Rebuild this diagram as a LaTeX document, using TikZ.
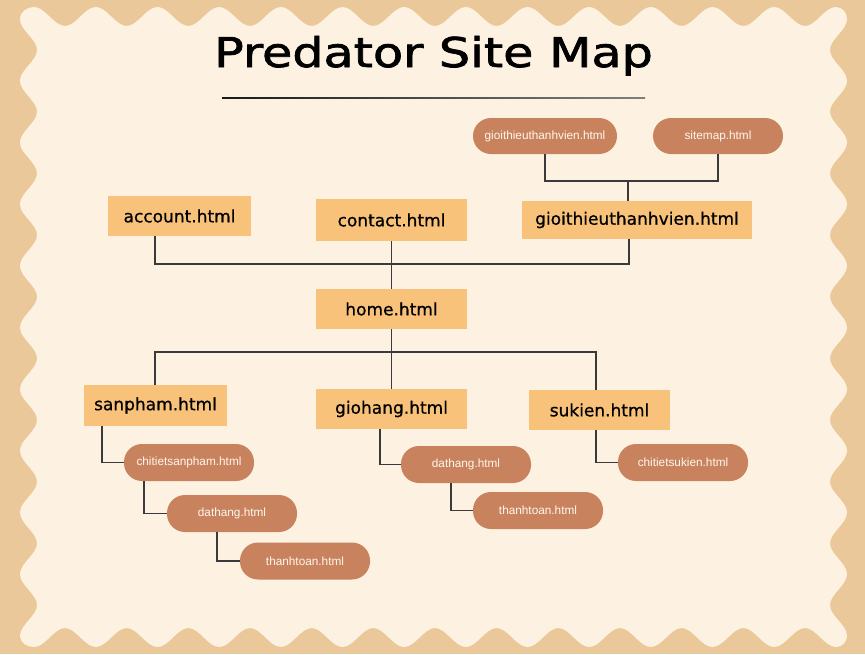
\documentclass[tikz,border=0pt]{standalone}
\usepackage{fontspec}
\usepackage{graphicx}
\setmainfont{DejaVu Sans}
\newfontfamily\titlefont[FakeBold=1.6]{DejaVu Sans}
\newfontfamily\boxfont[FakeBold=0.7]{DejaVu Sans}
\newfontfamily\pillfont{Liberation Sans}
\definecolor{tanbg}{HTML}{EBC899}
\definecolor{cream}{HTML}{FDF1E1}
\definecolor{boxfill}{HTML}{F8C27A}
\definecolor{pillfill}{HTML}{C8835E}
\definecolor{pilltext}{HTML}{FFF7EC}
\definecolor{linecol}{HTML}{3A3A3A}
\begin{document}
\begin{tikzpicture}[x=1pt,y=-1pt,
  bigbox/.style={fill=boxfill, inner sep=0pt, font=\boxfont\fontsize{17}{20}\selectfont, text=black},
  pill/.style={fill=pillfill, inner sep=0pt, rounded corners=18pt, minimum width=130pt, minimum height=37pt, font=\pillfont\fontsize{11.8}{14}\selectfont, text=pilltext},
  link/.style={draw=linecol, line width=1.1pt}]
\useasboundingbox (0,0) rectangle (865,654);
\fill[tanbg] (0,0) rectangle (865,654);
% wavy cream panel
\fill[cream] (34,7)
  \foreach \k in {0,...,12} {
    .. controls ({65+61.667*\k-19.8},7) and ({65+61.667*\k-11},26) .. ({65+61.667*\k},26)
    .. controls ({65+61.667*\k+11},26) and ({65+61.667*\k+19.8},7) .. ({65+61.667*\k+30.83},7)
  }
  to[out=0,in=90] (847,19)
  \foreach \k in {0,...,9} {
    .. controls (847,{50+61.667*\k-19.8}) and (830,{50+61.667*\k-11}) .. (830,{50+61.667*\k})
    .. controls (830,{50+61.667*\k+11}) and (847,{50+61.667*\k+19.8}) .. (847,{50+61.667*\k+30.83})
  }
  to[out=-90,in=0] (836,647)
  \foreach \k in {12,11,...,0} {
    .. controls ({65+61.667*\k+19.8},647) and ({65+61.667*\k+11},628) .. ({65+61.667*\k},628)
    .. controls ({65+61.667*\k-11},628) and ({65+61.667*\k-19.8},647) .. ({65+61.667*\k-30.83},647)
  }
  to[out=180,in=-90] (20,636)
  \foreach \k in {9,8,...,0} {
    .. controls (20,{50+61.667*\k+19.8}) and (37,{50+61.667*\k+11}) .. (37,{50+61.667*\k})
    .. controls (37,{50+61.667*\k-11}) and (20,{50+61.667*\k-19.8}) .. (20,{50+61.667*\k-30.83})
  }
  to[out=90,in=180] (34,7) -- cycle;
% title
\node[anchor=base, inner sep=0pt, font=\titlefont\fontsize{41}{48}\selectfont] (title) at (433.5,67) {\scalebox{1.2}[1]{Predator Site Map}};
\shade[left color=black!90, right color=black!50] (222,97.4) rectangle (645,98.8);
% big boxes
\node[bigbox, minimum width=143pt, minimum height=40pt] (acc) at (179.5,216) {account.html};
\node[bigbox, minimum width=151pt, minimum height=42pt] (con) at (391.5,220) {contact.html};
\node[bigbox, minimum width=230pt, minimum height=38pt] (gio) at (637,220) {gioithieuthanhvien.html};
\node[bigbox, minimum width=151pt, minimum height=40pt] (home) at (391.5,309) {home.html};
\node[bigbox, minimum width=143pt, minimum height=41pt] (sp) at (155.5,405.5) {sanpham.html};
\node[bigbox, minimum width=151pt, minimum height=40pt] (gh) at (391.5,409) {giohang.html};
\node[bigbox, minimum width=141pt, minimum height=40pt] (sk) at (599.5,410) {sukien.html};
% pills
\node[pill, minimum width=144pt, minimum height=36pt] (pg) at (545,136) {gioithieuthanhvien.html};
\node[pill, minimum height=36pt] (ps) at (718,136) {sitemap.html};
\node[pill] (cts) at (189,462.5) {chitietsanpham.html};
\node[pill] (dh1) at (232,513.5) {dathang.html};
\node[pill] (tt1) at (305,561) {thanhtoan.html};
\node[pill] (dh2) at (466,464.5) {dathang.html};
\node[pill] (tt2) at (538,510.5) {thanhtoan.html};
\node[pill] (ctk) at (683,462.5) {chitietsukien.html};
% junction coordinates
\coordinate (jT) at (628,181);
\coordinate (b1L) at (155,264);
\coordinate (b1R) at (629,264);
\coordinate (b2L) at (155,352);
\coordinate (b2R) at (596,352);
\coordinate (x1) at (102,0);
\coordinate (x2) at (144,0);
\coordinate (x3) at (217,0);
\coordinate (x4) at (380,0);
\coordinate (x5) at (451,0);
\coordinate (x6) at (596,0);
% connectors
\draw[link] (pg.south) |- (jT) -| (ps.south);
\draw[link] (jT) -- (jT |- gio.north);
\draw[link] (acc.south -| b1L) -- (b1L) -- (b1R) -- (gio.south -| b1R);
\draw[link] (con.south) -- (home.north);
\draw[link] (home.south) -- (gh.north);
\draw[link] (sp.north -| b2L) -- (b2L) -- (b2R) -- (sk.north -| b2R);
\draw[link] (sp.south -| x1) |- (cts.west);
\draw[link] (cts.south -| x2) |- (dh1.west);
\draw[link] (dh1.south -| x3) |- (tt1.west);
\draw[link] (gh.south -| x4) |- (dh2.west);
\draw[link] (dh2.south -| x5) |- (tt2.west);
\draw[link] (sk.south -| x6) |- (ctk.west);
\end{tikzpicture}
\end{document}
